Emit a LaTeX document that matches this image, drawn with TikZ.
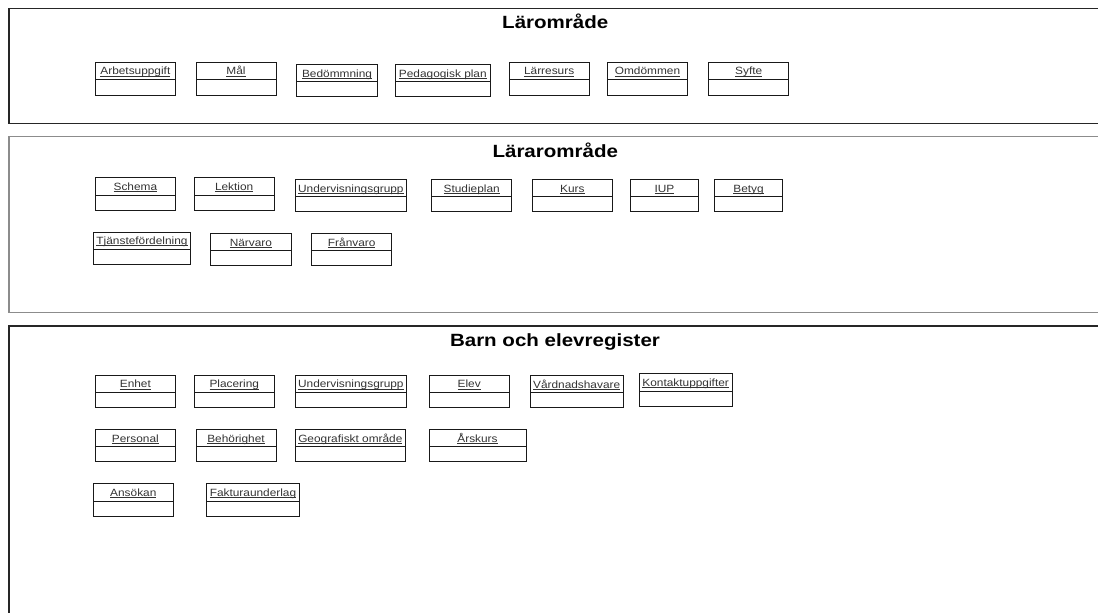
\documentclass[tikz,border=0pt]{standalone}
\usepackage{fontspec}
\setmainfont{Liberation Sans}
\usepackage{graphicx}
\begin{document}
\begin{tikzpicture}[x=1pt,y=-1pt,
  frame/.style={draw=black!85, line width=1.1pt},
  grayframe/.style={draw=black!45, line width=1.5pt},
  ebox/.style={draw=black!90, line width=1pt, inner sep=0pt, outer sep=0pt},
  eline/.style={draw=black!90, line width=1pt},
  elabel/.style={inner sep=0pt, text=black!80, font=\fontsize{10.5}{12}\selectfont},
  title/.style={inner sep=0pt, text=black, font=\fontsize{17.7}{20}\selectfont\bfseries}]
\useasboundingbox (0,0) rectangle (1098,613);
\clip (0,0) rectangle (1098,613);
\newcommand\ulfixed[1]{{\setbox0\hbox{#1}\rlap{\raisebox{-1.5pt}{\rule{\wd0}{0.55pt}}}\box0}}
\newcommand\utext[1]{\scalebox{1.13}[1]{\ulfixed{#1}}}
\newcommand\ttext[1]{\scalebox{1.16}[1]{#1}}
\newcommand\ent[7]{%
  \node[ebox, anchor=north west, minimum width={#4pt-#2pt}, minimum height={#5pt-#3pt}] (#1) at (#2,#3) {};
  \draw[eline] (#1.west |- 0,#6) -- (#1.east |- 0,#6);
  \node[elabel, anchor=base] (#1-t) at ({(#2+#4)/2},#6-4.5) {\utext{#7}};
}
% frames
\draw[frame] (1110,8.3) -- (9,8.3) -- (9,123.3) -- (1110,123.3);
\draw[grayframe] (1110,136.7) -- (9,136.7) -- (9,312.7) -- (1110,312.7);
\draw[frame] (1110,326) -- (9,326) -- (9,630);
% titles
\node[title, anchor=base] (t1) at (555.3,28.3) {\ttext{Lärområde}};
\node[title, anchor=base] (t2) at (555.3,157.3) {\ttext{Lärarområde}};
\node[title, anchor=base] (t3) at (555,346.7) {\ttext{Barn och elevregister}};
% Lärområde
\ent{arb}{95.7}{62.3}{175}{95}{79.3}{Arbetsuppgift}
\ent{mal}{196}{62.3}{276}{95}{79.3}{Mål}
\ent{bed}{296.7}{64}{377.3}{96.7}{81.7}{Bedömmning}
\ent{ped}{395.7}{64}{490}{96.7}{81.7}{Pedagogisk plan}
\ent{lar}{509}{62.3}{589.3}{95}{79.3}{Lärresurs}
\ent{omd}{607.3}{62.3}{687.7}{95}{79.3}{Omdömmen}
\ent{syf}{708.7}{62.3}{788.7}{95}{79.3}{Syfte}
% Lärarområde
\ent{sch}{95.7}{177.3}{175}{210}{195}{Schema}
\ent{lek}{194}{177.3}{274.3}{210}{195}{Lektion}
\ent{ugr}{295}{179}{406.7}{211.7}{196.7}{Undervisningsgrupp}
\ent{stu}{431.7}{179}{511.7}{211.7}{196.5}{Studieplan}
\ent{kur}{532.3}{179}{612.3}{211.7}{196.5}{Kurs}
\ent{iup}{630.7}{179}{698.3}{211.7}{196.5}{IUP}
\ent{bet}{714.7}{179}{782.3}{211.7}{196.5}{Betyg}
\ent{tja}{93.3}{232.3}{190.7}{264.3}{249}{Tjänstefördelning}
\ent{nar}{210.7}{233.3}{291}{265.7}{250.7}{Närvaro}
\ent{fra}{311.7}{233.3}{391.7}{265.7}{250.7}{Frånvaro}
% Barn och elevregister
\ent{enh}{95.7}{375}{175}{407.7}{392.3}{Enhet}
\ent{pla}{194.3}{375}{274.3}{407.7}{392.3}{Placering}
\ent{ugb}{295}{375}{406.7}{407.7}{392.3}{Undervisningsgrupp}
\ent{ele}{429}{375}{509.3}{407.7}{392.3}{Elev}
\ent{var}{530}{375}{623.3}{407.7}{392.7}{Vårdnadshavare}
\ent{kon}{639.3}{373.3}{732}{406.7}{391}{Kontaktuppgifter}
\ent{per}{95.7}{429}{175}{461.7}{446.7}{Personal}
\ent{beh}{196}{429}{276}{461.7}{446.7}{Behörighet}
\ent{geo}{295}{429}{405.7}{461.7}{446.7}{Geografiskt område}
\ent{ars}{429}{429}{526}{461.7}{446.7}{Årskurs}
\ent{ans}{93.3}{483.3}{173.3}{516}{501}{Ansökan}
\ent{fak}{206.7}{483.3}{299.3}{516}{501}{Fakturaunderlag}
\end{tikzpicture}
\end{document}
